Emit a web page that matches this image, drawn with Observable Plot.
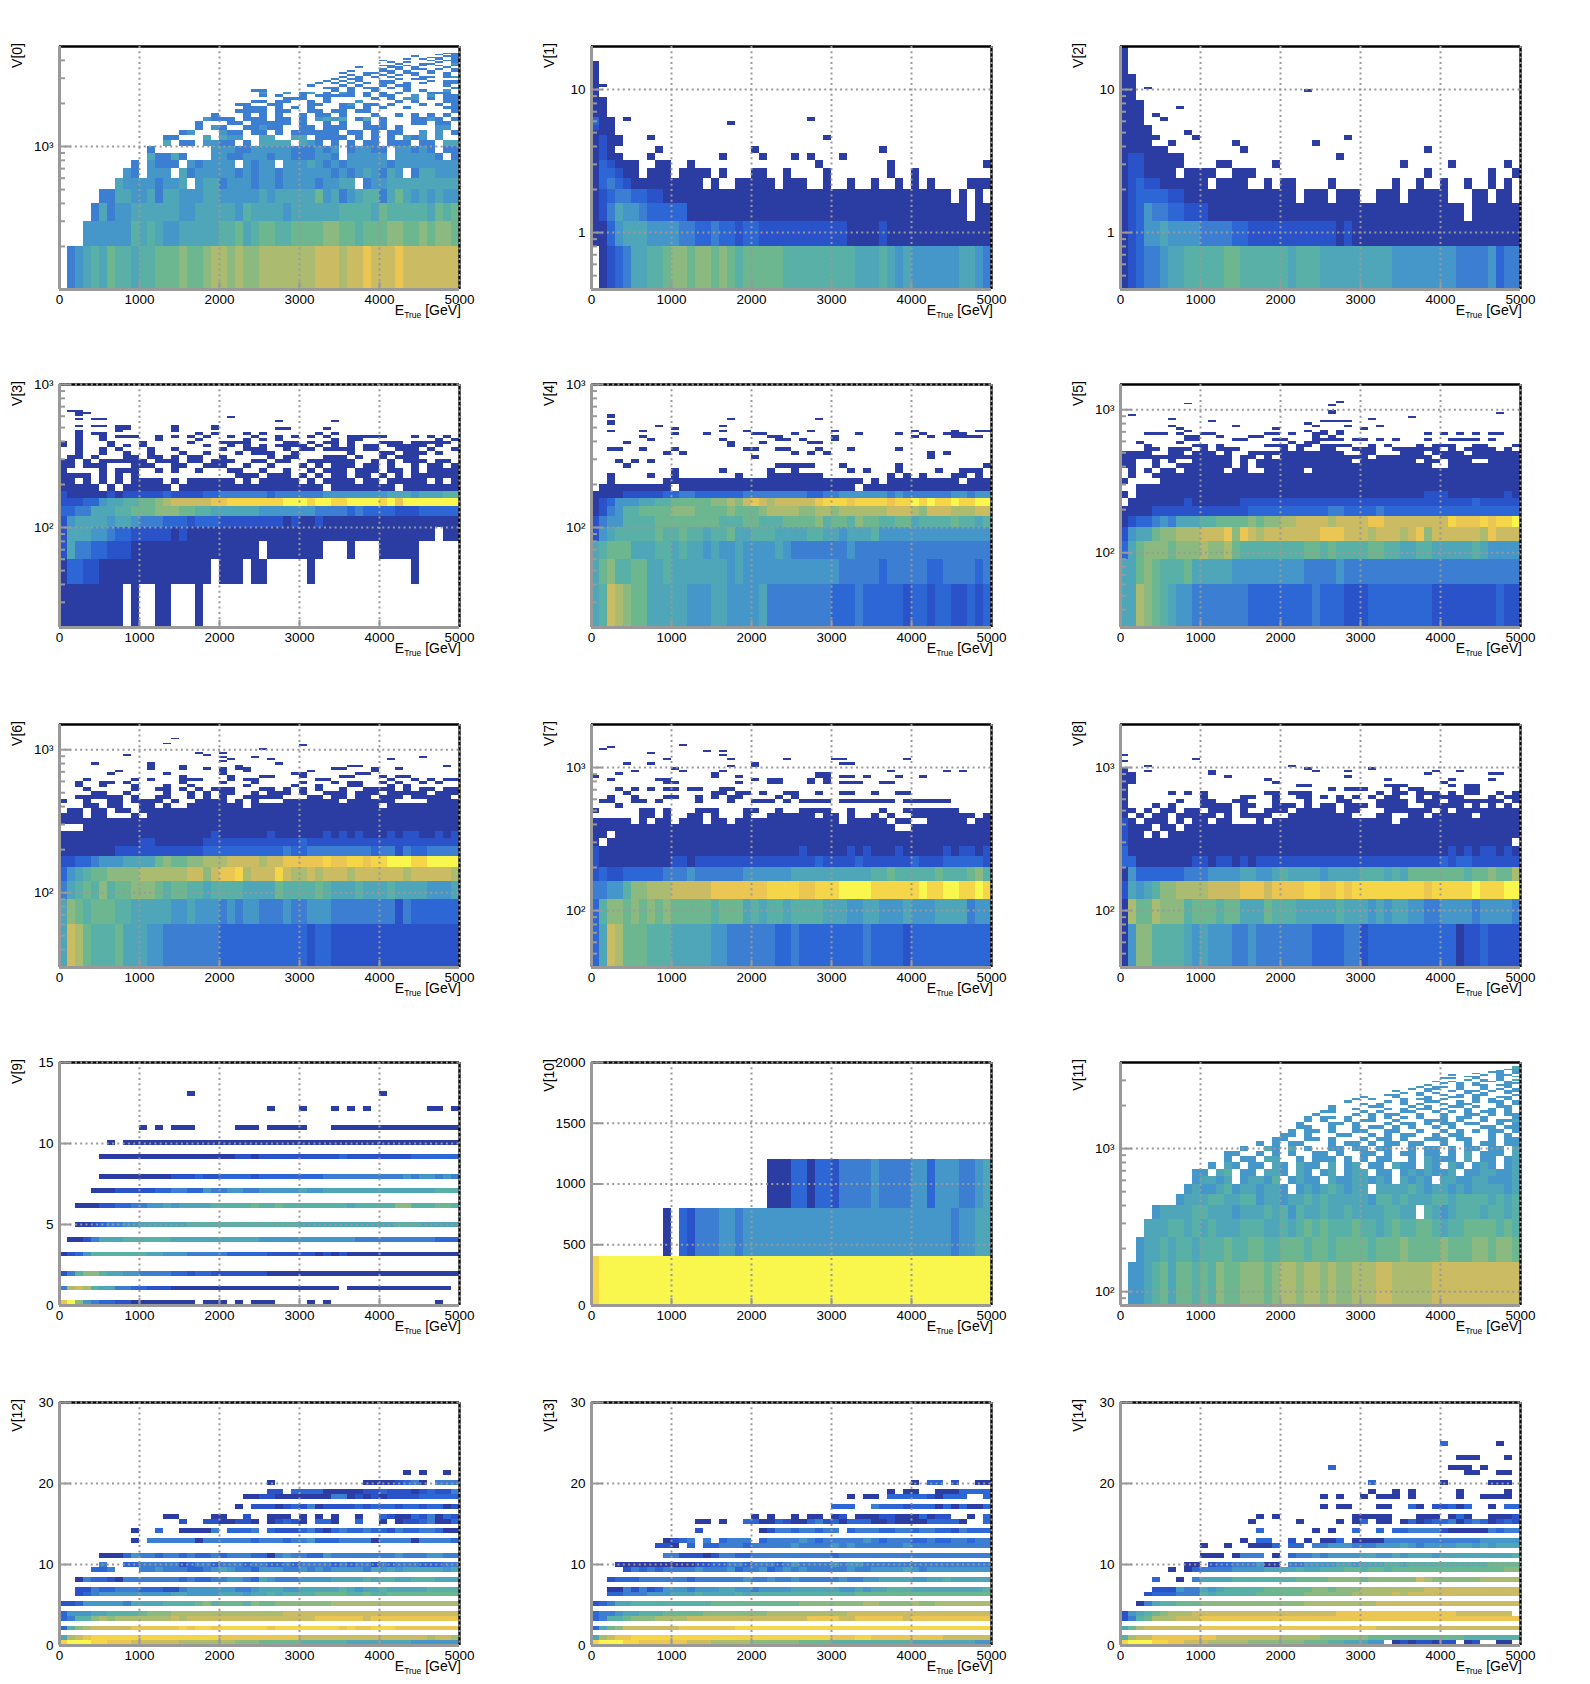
<!DOCTYPE html>
<html><head><meta charset="utf-8">
<script src="https://cdn.jsdelivr.net/npm/d3@7"></script>
<script src="https://cdn.jsdelivr.net/npm/@observablehq/plot@0.6"></script>
<style>
html,body{margin:0;background:#fff}
#page{position:relative;width:1590px;height:1684px;overflow:hidden}
#page svg{position:absolute;background:none;font-family:"Liberation Sans",Arial,sans-serif}
</style></head><body><div id="page"></div>
<script>
// Colour level of each cell: 0 (dark blue) ... d (yellow), "." = empty bin.
// A trailing * repeats the last level up to the last x bin.
const levels = "0123456789abcd".split("");
const palette = ["#2b3da3","#2a52c9","#2d66d5","#3b7ed2","#4497c8","#4ea6b8","#58b0a6","#6db790","#8bb97f","#abbb70","#cbbb62","#ecc653","#f6d649","#f9f64e"];
const xBinWidth = 100;
const xTicks = [0,1000,2000,3000,4000,5000];

// every array: index = y bin number, each string = 50 x bins (left to right)
const V0 = ["",
".345657665 6677787789 9898899999 99aaa9aaba aabaaaaaaa",
"...4444446 5654455555 6675677667 7778877677 7887787887",
"....353445 5555544555 5546555545 5555566665 7666665767",
".....33554 4535544455 4444454555 5574534566 3575454544",
".......544 443445.455 3444344344 4434455.34 4555555555",
"........43 .444.53444 4434344344 4444343454 354.355444",
".........3 .4333.4344 44.4344.44 4543434444 4344444444",
".......... .53353...4 4334443443 33443.4444 4.444443.3",
".......... .3.......4 4433444443 33434.3443 3.44343.33",
".......... ...5.33.44 33.3.5555. 543.3.3.33 .333.33.55",
".......... ...33...5. 544..55..5 5.3333.3.3 .3.434.4..",
".......... .....34... 433.33.3.3 33333.33.3 .33..4.4.3",
".......... .......3.4 3..33433.. 33.333..33 3.3....44.",
".......... .......3.. .33.33333. 3..3.3..3. 3...33.33.",
".......... ........43 33.333.33. 3.4545.35. 3...3343.3",
".......... .........3 ...3.3.3.. 3.33.3.. .3..3.3.3.3",
".......... .......... ..3333.33. .33.33.33. .........3",
".......... .......... ...333.3.3 .3...33.3. 3..3....33",
".......... .......... ..33..33.. .33..34.33 .3...3.3.3",
".......... .......... ....33.33. .3.3...4.. ..3.3...33",
".......... .......... ........33 3..3.....3 .3.44.3.33",
".......... .......... .....3.3.. 3.33333.3. 33..4.4.33",
".......... .......... .....4..4. 34.3.43.3. 3.3...333.",
".......... .......... ....33.... ....3.3..3 ...3.3..4.",
".......... .......... .......... ...33.3.33 .3.3.....3",
".......... .......... .......... .3...3.3.. 3.33....3.",
".......... .......... .......... ..3.3.4.3. 33.3.3..33",
".......... .......... .......... ...3.3.3.. 33....3.33",
".......... .......... .......... ....3.33.. ..3.33....",
".......... .......... .......... .....3.3.3 .3...33.34",
".......... .......... .......... ......3.3. 3.3.3...3.",
".......... .......... .......... .....3..33 .3.33.3.3.",
".......... .......... .......... ......3... 33.3..3..3",
".......... .......... .......... .......... 3.3.33.3.3",
".......... .......... .......... .......3.. .33.3...3.",
".......... .......... .......... .......... 33.3.3.3.3",
".......... .......... .......... .......... ..3..33..4",
".......... .......... .......... .......... .3.3...3.3",
".......... .......... .......... .......... 3.....3.33",
".......... .......... .......... .......... ...3.3.3.3",
".......... .......... .......... .......... ......33.3",
".......... .......... .......... .......... ....3...33",
".......... .......... .......... .......... .......3.3",
".......... .......... .......... .......... ........33"];

const V1 = ["",
".01235 5667 88788 78767 7777666666 6665556545 4444445543 3",
"00245554444 33223 2212 2111111111 1100001000 0000000000",
"0135443222 2200000000 0000000000 0000000000 0000000.00",
"0123322110 0000000000 0000000000 0000000000 00000.0.0. 0..00.0..",
"0232100000 0000.0.. 0000 0.000..0.. 0..0..0.0. 0....0000 ..0",
"0221 00.000 .0000.0... 00..0....0 .......0.. 0",
"0210 00..00 ..0....... ........0. .......0.. .........0",
"010 0...0... .....0.... 0...0.0... 0",
"010 .....0.. .........0 .......... .....0",
"0100",
"0100...0.. .......... .........0",
"000",
"100",
"200 .......... ....0",
"200 .0....... .......... .....0",
"00","00","00","00","00","00","0","0","0","0",
"00","0","0","0","0","0","0","0","0","0","0","0","0"];

const V2 = ["",
"0123345566 6667766666 6566655555 5555444444 4433334 2332",
"0124454444 3 33322111 1111 1111 0100000000 0000000000 0000000000 0*",
"0124332 211 1000000000 0000000000 0000000000 000.000000",
"0122221100 0000000000 00.000.000 ..000.0000 0...00.00 .0..",
"012110000 00.0000..0. 00....0... ....0..0.. 0..0..0.0.",
"0110000.00 00..000... .......... ........0. ......0..0 ..0.00",
"01100000.. ..00.....0 .......... .....0.... .0......0 ....0",
"01100000. .......... ........0. .........",
"000000.... .....0.... .......... ........0",
"0000..0... ....0..... ....0",
"00000....0 .......... ........0",
"0000....0","0000","000",
"000..0",
"000.0","000",
"000....0","000","000",
"00","00","00",
"00 ....... .......... ....0",
"00.0","00","00","00","00","00","00",
"0","0","0","0","0","0","0","0","0","0","0","0","0","0","0","0","0","0"];

const V3 = ["",
"00000000.0 ..00...0..",
"0221100000 000000000. 000.00.... .0........ ....0",
"1533221110 0000000000 00000.0000 000...0... 00000",
"1555443221 1111010000 0000000000 0000000000 0000000.00",
"1455554554 3332221222 1111111101 0010000000 0000000000",
"2233555667 7788877665 5555544444 4433332322 2211122222",
"1112245566 7789aaaaab bcccccccdd dcddccdddd cdbddddddd",
"1000001011 1112111122 3333332333 3334444444 4555455566",
"00000.0.00 0000.00000 0000000000 000.000000 00.0000000",
"00.0.0.0.0 000.0.0000 00.0.00000 .0.0000.00 .00000.0.0",
"0000.0.0.0 .......... ..000.000. 0.0.00.00. 0.0.000000",
"0....0.000 ..0.0..0.. .00..0..0. .0.000.000 .00.0.0000",
"00.000...0 00..00..00 0..0..0... 0.0.000.00 .0..0.00.0",
"00.0.00000 0.000.00.0 00..00.00. .000000..0 .0.000.00.",
".00.0...00 .00.0.00.. 0.....0.00 ...000.0.. 0.000.....",
"..0..0..0. .0...0..0. ..0.000..0 ......0... 00.000.0.",
"..0..0.0.. .0..0..... 0..000..0. 00.0000.00 ..000.0..0",
"0.0...0.0. 0.......0. .0.0.0.000 0.0.0.0.00 .00000.0..",
"0.0...0... 0.....0... 0000....00 .0.00.0... 000.00000.",
"..0..0.... ..0....0.. ...0.0.0.. ....0.00.. .......0.0",
"..0..0.000 ..0.0.0.0. .0..0..0.0 .0.0..0000 0...0.0.0.",
"..0.00.... .......0.0 ...0.0.... ..0.0.....",
"..0....0.. ....0..... ..........",
".......00. ....0....0 .......00. ...0.....",
"..0.00.00. ....0....0 ..........",
"..........",
".......... .......... .......0.. ....0.....",
"..0.00.... ..........",
".......... .......... .0........",
"..0.......",
"..00",
".00"];

const V4 = ["",
"56a9877555 5544455444 4533333333 2223222221 2212211212",
"5786677556 5555555454 4444444444 4333332333 3322333323",
"5677755566 5655454454 4445433333 3343333333 3333333333",
"1456666676 6766566755 6665555665 5455564444 4444444444",
"1344666677 7777776667 7666777786 7768776677 5666676656 6",
"0134667777 8887777877 7899998899 8999999aaa 9 8 a a a 9 9 9 a a a*",
"012 4 4 4 5 5 6 6 7 7 7 7 7 8 8 9 8 a b a 9 a a a a a b c c c b c c c c b c c d c d c c d c c d d*",
"0000111 112 2 3 3 2 2 2 2 2 2 3 3 3 3 3 3 3 3 2 2 3 3 4 4 4 4 4 4 3 4 3 3 3 3 3 3 4 4 3 4 4 4 4 4*",
".0000 00000.0000 00000 00000 00000 000.000000000000000000000*",
"..0......0 0000000000 0000000000 0000.0.0 000 00000.0000.00",
"..0....0.. 0.......0. ..0000000. .......0 .0.0...00 .0....0.",
"..........0 .....0.. ...0..0.... ..0.0...0. ...0..000...0",
"....0...... .......... ..00000...0 ......0 .......... 00",
"...0.0.0..",
".......... ..........0.. ..........  ...... ...0.......0",
".........0.0 .......... ...0.0.0.......... ..0.0",
"..00..0...0. ....... 00..00...0 ...0.....0",
".......... .......0...... .......",
"....0...... ......0...0.. ...00",
".......0.. ......0...... 00.0...0.",
"...... 0..... .......... 00 ......0...... ...0.0.. 0000.0",
"......... .0...0.. ...00...0.. .....0 ....0..0..00 0....0.",
"..0...0...... ...0..0... ....0 .. 0......... 0....0..00",
"..........0",
"........0... .. ..0... ..",
"..0",
"..0",
".......... .......0.... ...... 0 .........",
"..0.......",
"..0"];

const V5 = ["",
"55987654 4 3 3 3 3 3 3 3 2 2 2 2 2 2 2 2 3 2 2 2 1 1 1 2 2 2 2 2 2 2 2 1 1 1 1 1 1 1 1 2 1 1 1 1 1 0 1 1 1*",
"55 7 8 7 6 6 6 7 5 5 5 5 5 4 4 4 4 4 4 4 4 4 3 3 3 3 4 3 3 3 3 3 3 3 3 3 3 3 3 3 3 3 3 3 3 3 3 3 3 3*",
"2 5 7 8 8 8 7 8 8 8 9 8 8 9 7 6 6 6 6 6 6 6 6 7 7 6 7 6 6 6 6 7 7 6 6 5 5 6 6 5 5 5 5 5 6 5 4 4 4 4*",
"1 4 5 5 7 8 8 9 9 9 a a a b 8 b a 9 a a a a a a a b b b a a a 9 a a a 9 a b 8 a a a a a a 9 b a a a 9",
"0 1 2 2 3 4 3 5 5 5 6 6 7 7 7 7 8 7 8 8 9 9 a a a a 9 a a a a b b a a a a a a a a c b b b c b c c d c d c b d c",
"0000 1 1 1 1 1 1 1 1 1 1 1 1 2 2 2 2 2 2 2 2 2 2 3 3 2 2 2 2 3 2 2 2 2 2 2 2 2 2 2 2 2 2 2 2 2 2 2 3 2 3",
".000000010 0000011111 1111111111 1111111111 1111 2 1111 1 1 11",
"0.00000000 0000000000 0000000000 00000000 1 1 1 0000000 1 0 0",
"..00000000 0000000000 00000000 0 0 00000000 00000 00000 000",
"0....00000 0000000000 0000000000 0000000000 0000000000",
".0..000000 0000000000 0000000000 0000000000 0000000000",
".0.0.00.00 000.00..00 000.00000 000000000000 000000000000",
"00..0..000 0000.0.000 0000000000 000000000 ..0000000000000",
"00..0.0..00 000.0.00000 0000000.0 000000.00 .000..00000000",
"0000000000 0000.00.0. 00000000000 .0000000 .00000000000000",
"0000..00.0 00.0..0000 00000000..0 0...000.0 000.00000000.0",
"...00.000.0 .000.. ...0.0..00.. 000..0000 00.0.0000.0",
"...0.....00 .0.....000.00.0000..0 .0...0.0 00..00...0.00",
"..0....0.. ...........0.00 ....",
"...... ..00... .00...00...0000.00 .0.0...0.. 0000.0...00",
"..... ...00..0 ...00......0.0 ...",
"...000.0.. 00......00.0. .00.0...... ....0.0.0 .0.00",
"...... ..0... ...........0 .0 .0 ",
"...... .0....... ....0...... ....0..",
"...... 0... ....0......... 0...0...0",
".......... .......... ...0",
"...........0.......... ...0000",
"...... 0... .......... ...........0",
".......... .......... ........ ........ 0",
".0",
".......... .......... ......0 .......... .......... 0",
".......... .......... ......0",
".......... ..",
"",
".......... .......... ......0",
"........0",
".......... .......... ..... ..0"];

const V6 = ["",
"5 a 9 7 6 6 6 7 5 5 5 4 4 3 3 3 3 3 3 3 2 2 2 2 2 2 2 2 2 2 2 1 2 2 1 1 1 1 1 1 1 1 1 1 1 1 1 1 1 1",
"5 8 7 6 7 7 7 6 6 5 5 5 5 5 4 4 5 4 4 4 3 4 3 4 4 3 3 3 4 3 3 4 4 4 3 3 3 3 3 3 3 3 1 3 2 2 2 2 2 2",
"3 5 6 7 6 8 6 7 7 8 8 8 7 6 7 7 6 6 5 6 6 6 6 5 5 5 5 7 6 6 6 6 7 6 5 5 5 6 5 5 5 6 5 5 5 5 4 4 4 5",
"2 4 5 6 7 7 8 8 8 8 9 9 9 9 9 9 a a 8 a b b c 9 a a a c a 9 9 a 9 a a a 9 a a a a a a 9 a a a a a 9",
"1 1 2 2 3 4 4 4 5 5 5 5 7 8 7 7 8 8 9 9 9 a a a a 9 a a b b b b b c b b c c b c c d d d c c d d d d",
"0000000 1 1 1 1 1 1 1 1 1 1 1 2 2 2 2 2 2 2 2 2 2 3 2 2 3 3 3 3 3 3 3 3 2 3 3 1 3 2 2 3 3 3 3 3 3 3 2",
"0000000000 1 1 000000 1 1 1 1 1 1 1 1 1 1 1 1 2 1 1 1 1 1 1 1 1 1 1 1 1 1 1 1 1 1 1 1 1 1*",
"0000000000 0000000001 0000001000 0001010100 0101100101 00",
"...0000000*",
"0000000000*",
"000.00...0 .0*",
".00.00.00. 0*",
"...00.00.. 00.0..0000 000.000000 0000000000 .0*",
"0..0..00.0 000.0..000 0.0.0...00 00000.0000 00....0000",
"..000000.0 ..00..0.0. 0..00000.. .00.00.00. 000.00000.",
"....00..0. ...0..0.0. 00..0.000. 0..000.000 .00000.000",
"...0.....0 ..00.0.0.0 00...00.0. 0.0..0..00 00.0.00.00",
"..0..0...0 ...0..0... ...0.....0 ..0...00.. .0.0.....",
"..0..00.0. .....0.... 0...0..... 0...0.00.. 0.0..0.0..",
"...0.....0 .0...000.. .0.00..... ..00...... .0..0.0.00",
".......... .....0.... .0...00... 0....00... 0.00..",
"......0..... .0......0.. ......00.. ....00.. .....",
".......0.. .......... 0..0.......0 .......0",
".......... .0.. .0..0.0.00.. ........00... 0..0",
".......... .0...0.... ..0....... ......00.. ........0",
"....0...... 0......... ......0... ..........",
".......... .......... 0.......... ........",
"........ ....... ......0.. ..0.... ..........0",
".......... .......... 0...0 ..... ...... .........0",
"........0.. .......0 .......... ..........",
".......... .......0 ..0.......",
"",
".......... .......... .....0....",
"",
".......... .......... ..........0",
".......... ...0",
"","",
".......... ....0"];

const V7 = ["",
"25 a 9 7 7 7 6 6 6 5 5 5 5 5 4 4 3 3 3 3 3 3 2 2 3 2 2 2 2 2 2 2 2 3 2 2 2 2 1 2 2 2 2 2 2 2 2 2 2 1",
"2 6 8 8 7 8 7 8 7 8 7 7 7 7 7 6 7 7 7 5 6 5 6 6 5 6 6 6 6 5 5 5 4 4 5 5 4 4 4 5 4 4 4 5 5 5 5 3 4 4",
"3 3 4 4 6 8 8 9 9 9 a a a a a b b b b b b b c c c c b b c c c d d d d c c c c c c d c c d d c c d c",
"1 2 1 1 2 2 2 2 2 3 3 3 4 3 3 3 3 3 3 4 4 4 4 4 4 5 5 5 5 5 5 5 5 5 5 6 6 7 6 6 6 6 6 7 6 6 6 7 8 6",
"1 0 0 0 0 0 0 0 0 0 1 1 0 1 1 1 1 1 1 1 1 1 1 1 1 1 1 1 2 1 1 1 1 2 1 1 1 1 1 1 2 1 1 1 2 2 2 2 2 1",
"1 0000000 000000000000000000 1 0 0 0 0 0 1 0 1 0 0 0 1 0 0 0 0 0 1 0 1 1 0 1 0",
"0.00000000 0000000000 0000000000 0000000000 0000000000",
"00.0000000 0000000000 0000000000 0000000000 0000000000",
"0000000000 0000000000 0000000000 00000000..0 00000000 00",
"00000.0.00 .000.00.00 00000000 000.00000.0 0..00000.0000.00.0",
"......00.0.. 00.0...0.. 000000.00.0..0 .0..00000 000.0.00.",
"0.....00.0 ...000...00..0 ..0000..0...0.. 0000000",
"...0.....",
".00..00.0. ...0...0.. 000.0.0000 .0000000.0 00000",
"..0..0...0 0..0.0.00. ...0.0....",
"....0....  ......00.00.0..0 0..0..00..0..00",
"...0.0.0.00.00..00 ...",
"",
".........0 0.......0...00...0.0.000..00",
"..0.....00 ..........0.00...0.0...",
"0...... .... ....0.. 0.........00 .00.0...0..0",
"...0...... .....0... ..... ....00",
".....0.... .0....0... ........... ......0......0.0...0",
"..........0 ...... ..",
".......... .......0.. 0",
"....0..0.. ..........0 ..........00",
"",
".........0 ....... 0...... 0..... 00.......0",
"..........",
"............ ....0",
"...... .0...",
".......... ....0.0",
".0",
"..0",
"...........0"];

const V8 = ["",
"0 4 8 8 6 6 6 6 5 4 5 4 4 4 3 3 4 3 3 3 3 3 3 3 2 2 2 2 3 3 1 2 2 2 2 2 2 2 2 2 2 2 0 1 1 2 1 1 1 1",
"0 9 7 7 9 8 8 8 6 7 7 7 6 7 7 5 5 5 7 6 6 6 5 5 5 5 5 6 5 5 5 4 5 4 5 5 4 4 3 3 4 4 4 4 3 4 4 4 4 3",
"1 5 4 5 6 8 8 9 9 9 9 a a a a b b b a b b b b c c b b c b c c c c c c c c c b c c c c c d c c c d d",
"0 4 2 2 2 2 2 2 3 3 3 4 4 4 4 5 5 4 4 5 6 5 5 5 5 4 5 5 5 5 6 6 6 5 6 5 7 7 7 7 7 7 7 6 7 7 8 7 7 9",
"2 2 0 0 0 0 0 0 0 1 1 0 1 1 0 1 0 1 1 1 1 1 1 1 1 1 1 1 1 1 1 1 1 1 1 1 1 1 1 1 2 1 2 2 1 1 1 1 1 1",
"2 0 00000000 00000000000 00000000000000000000 1 0 1 0 1 1 0 1 0",
"1 00000000 0000000000 0000000000 0000000000 0000000000",
"1 00.0.0000 0000000000 0000000000 0000000000 0000000000",
"1 000.00.00 0000000000 0000000000 0000000000 0000000000",
"10.000.0.0 0.00...0.0 0000000000 0000.00000 0000000000",
"0.0.00.000 00.0.0000. .00000000. ..00..00. 00000.000 000.",
"00.0.00.00 .000.0..00 0.00000.00 ...000000.0 .000000000",
"0...0.0... 0000.00..0 00.0.00.00 0.0000..00 000.0.0.0.",
"0......0.. 00..00...0 ...0...00. ..0000.000 .0000000.0",
"0.........0 ....00..0 ..00.0.0.0 .0.00..0.0 000...0.000",
"0.....0.0.0 .......0 0.000...... ..0.00.000 .0.00..0.0.",
"0.......... .. .... ..... ....0.000...0 .00.....00",
"0.....................00 .........000. ....0.00",
"00 ....... .......... 0.......... ..........0",
"00 ................ 0..............0.......0 ....0",
"00 ..... ..... .0 ..............0.. ..........",
"00.........0 .......... ................0 .......00",
"0..0 ..... ..0 ...... ......0...0.. ..... .. .0.. 0",
"0.......... .... ..... ...0 .......0",
"...0.................0.......... ..",
"",
"0",
".........0","",
"0"];

const V9 = [
"bd84322 110 0000000 .000 .0.000.... 0.0.......... ...0",
"","",
"39a9 655332 21110 0000000 0000000000 000.0000000000000.. 0",
"","",
"1 3 6 8 8 6 5 5 4 4 3 3 3 3 2 2 1 2 2 1 1 1 1 1 1 1 0*",
"","","",
"0 1 2 4 6 6 6 6 6 6 6 5 5 4 4 4 3 3 3 3 3 2 2 2 2 2 1 1 1 1 1 1 0 1 0 1 0*",
"","",
".001 3 5 5 5 6 6 6 6 6 6 5 5 5 5 5 5 5 5 5 5 5 4 4 4 4 4 4 4 4 4 4 4 4 3 3 3 3 3 3 3 3 3 3 2 2 2 2 2 2*",
"","",
"..001 2 3 3 4 4 5 5 5 5 5 5 6 6 6 6 6 6 6 6 6 6 6 6 6 6 5 5 5 5 5 5 5 5 5 5 5 5 6 6 6 5 5 5 5 5 5 5 5 6",
"","","",
"..00011 2 2 3 3 4 4 5 4 5 5 5 5 6 6 6 6 6 7 6 6 7 6 6 6 6 6 6 6 6 5 6 6 6 6 6 8 8 6 6 6 7 7 6 7 6*",
"","",
"....0001 11 11 2 2 3 3 2 2 4 3 3 4 4 3 3 4 4 4 4 4 5 4 4 5 5 5 5 5 5 5 5 5 5 5 5 5 5 6 6 6 6 6 6 6*",
"","",
".....0000 00000 11 1 2 1 1 2 2 2 2 1 2 2 2 2 2 2 2 2 3 3 3 3 3 3 3 3 3 3 4 3 4 4 3 4 3 3*",
"","","",
".....00000 0000000000 00 1 1 0 1 1 1 1 1 1 1 1 1 1 2 1 1 1 1 1 1 1 1 2 2 2 2 2 2 2 2 2 2*",
"","",
"......0.00 0000000000 0000000000 0000000000 0000000000",
"","",
".......... 0.0.000.... .000 .00000.. .000 000000000000 000000000 00*",
"","","",
".......... .......... ......0... 0...0.0.0. ......00.0",
"","",
".......... ......0... .......... .......... 0"];

const V10 = [
"cddddddddd dddddddddd dddddddddd dddddddddd dddddddddd",
".........0 .213334434 4444444444 4444444444 4444434455",
".......... .......... ..00022022 1333343333 4424443345"];

const V11 = ["",
".4456 7 5 7 7 6 7 6 8 7 7 8 8 8 7 8 9 9 8 9 9 8 9 8 8 9 9 9 a a 9 9 9 9 9 a a a a a a a a a a a a a a a a",
"..4556 5 6 6 5 6 6 6 7 6 6 7 7 6 6 7 7 7 6 7 7 6 7 7 7 7 6 7 7 7 8 7 7 7 7 8 7 7 7 8 8 7 8 8 7 7 8 7 8 7",
"...555 6 6 5 6 5 6 5 5 5 6 6 6 5 5 6 5 6 7 6 7 6 6 6 7 6 6 5 6 7 6 6 7 7 6 5 6 6 7 7 7 7 6 7 6 6 7*",
"....4 5 5 5 5 6 6 5 5 5 4 5 5 5 6 5 6 4 6 5 5 6 5 5 6 5 5 5 5 6 6 5 5 .6 5 4 5 6 6 6 5 6 6 5 6 6 5 6 5",
".......455 5665566455 4556565555 5466565556 6566665656",
"........45 4456455455 4.45456545 5.55556545 5454555545",
".........4 5545.45546 .4544.5445 5454.5454. 5544554445",
".........4 4.56.44.55 4.54.45.45 5.44.45454 45.4455445",
".......... .4.54.44.5 4.544.5.45 .44.544.54 .54.454.45",
".......... ...4.44.55 ..4.444.4. 4.44..4.54 44.5.44.45",
".......... ...44..4.4 .4..44.4.. 44.4.44.44 .4.5.444.5",
".......... .....4..54 .5.4..44.4 4.44..4.44 .4.44.44.5",
".......... .......4.4 .44...4.44 .4.44.44.. 4..4.44.44",
".......... .........4 4..44.4... 4.44.4..44 4.44..4.44",
".......... .......... 44.4...44. .4.4.44..4 .44...4.4.",
".......... .......... .4.44.4..4 4..44..4.. 4.4.4.44.4",
".......... .......... ..44..4..4 .44.4.4..4 .4...44.44",
".......... .......... ..4...44.4 ...4.44.4. 44.44..4.4",
".......... .......... ...4.4..4. 44..4...44 4.4..4.445",
".......... .......... ...4.44.4. .4.4.4.4.. 4.44.4...4",
".......... .......... ....4....4 .4.44..4.. 4..44.4.44",
".......... .......... .....44... 4.4..44..4 .4.4.44.4.",
".......... .......... ......4..4 ...4.4.44. 4..4..4.4.",
".......... .......... ......4... .44...4.4. .44.4..44",
".......... .......... .......... 4.4..4.4.. 4.44...4.4",
".......... .......... ........4. ...4.4..44 ..4.4.44.4",
".......... .......... .........4 .4...4.44. 4...4.4.4.",
".......... .......... .......... 4...4...4. .44.4..44.",
".......... .......... .......... ...44..4.. 4.4.44...4",
".......... .......... .......... .....4.4.4 ...4.4..4.",
".......... .......... .......... ....4...4. .4.44.4.44",
".......... .......... .......... ......4.44 ..4..4.4.4",
".......... .......... .......... .......4.4 4.4..4..4.",
".......... .......... .......... ........4. ..4.44.44.",
".......... .......... .......... .......... 4.4.4...44",
".......... .......... .......... .........4 .4...44.4.",
".......... .......... .......... .......... ...4.4.4.5",
".......... .......... .......... .......... 44..4..4..",
".......... .......... .......... .......... ...44..4.5",
".......... .......... .......... .......... .4...4.44.",
".......... .......... .......... .......... ....4..4.4",
".......... .......... .......... .......... ......44.4",
".......... .......... .......... .......... .......4.5",
".......... .......... .......... .......... ........44",
".......... .......... .......... .......... .........5",
".......... .......... .......... .......... .........5"];

const V12 = [
"cdddccbbba aaaaa99999 998887 7 7 7 7 6 6 6 6 6 6 5 5 5 5 5 5 5 5 4 4 4 4 4 4 3*",
"5 9 a b c c c c c c c c c c c c c c c c b b b b b b b b b b a a a a a a a a a a a a a a a a 9 a a 9 9 9",
"","2 6 8 9 a a a a a b b b b b b c b c c b c c c c c c b c c c c c c c c b c b b c c c b b b b b b b b b",
"","2 3 6 6 8 9 8 9 9 9 9 9 9 9 a 9 a a a a a a a a a a a a a a a a b b b b b b a b b b b b b b b b b b",
"2 4 4 4 5 5 6 6 6 6 7 8 8 8 9 9 9 9 9 9 9 9 9 9 9 9 9 9 a a a a a a a a a a a a a a a a a a a a a a",
"","1 1 2 4 4 4 4 4 3 5 5 5 5 6 6 6 6 7 8 6 7 7 7 6 8 7 7 8 8 8 8 8 8 8 9 9 9 9 9 9 9 9 9 9 9 9 9 9 9*",
"","..1 2 3 4 4 4 4 4 4 4 4 4 5 5 4 4 4 4 5 5 5 4 5 5 6 5 6 6 6 6 7 7 7 7 6 6 7 6 6 7 7 7 7 7 7 7 7 7 7",
".. 1 1 3 2 2 3 3 3 2 2 2 1 1 3 4 4 4 4 4 4 3 3 4 5 5 5 4 4 5 5 5 5 5 6 5 4 5 5 6 5 5 5 5 5 6 6 6 6 6",
"","..0 3 2 2 1 0 3 3 3 3 3 3 3 2 3 2 2 3 3 4 4 3 2 5 4 3 3 3 4 4 4 4 5 5 5 5 6 5 6 6 5 5 6 6 6 5 5 5*",
"","....223... 3 3 4 3 3 3 2 2 3 4 5 4 3 3 2 4 4 4 3 3 4 3 4 3 4 4 4 4 3 5 4 5 4 5 5 5 5 5 4 5 4 4*",
".....3.. 2 2 3 3 3 3 3 1 2 3 3 2 3 3 3 2 3 3 2 2 3 2 3 3 3 3 2 3 2 3 3 1 3 2 3 3 3 2 2 2 3 3 3*",
"","..... 000 2 4 3 3 2 3 3 2 3 2 2 3 2 3 3 3 2 2 0 3 4 3 3 2 2 4 3 3 3 3 3 3 3 3 4 3 3 3 4 4 3 3 3 3*",
"","",".......2 2 0 1 3 3 3 2 2 3 3 0 3 4 3 2 3 3 3 2 0 3 3 3 3 3 4 4 3 3 3 0 1 3 3 3 3 2 3 0 4 4 3 3 3 3 3 3"];
// rows of V[12] at values 13 to 21
V12[21] = ".........0 .3 3 3 3 3 3 0 3 3 3 3 3 3 2 3 3 3 2 3 3 4 2 2 2 3 3 3 3 0 3 3 3 3 0 3 3 3 3 2 3 3 3 3*";
V12[23] = ".........0 ..2..00 0 0 3 .2 2 2 3 .2 1 1 1 2 3 1 0 2 3 2 2 3 2 2 1 3 2 2 3 3 2 0 0 2 3 2 2 1*";
V12[25] = ".......... .....1.. 11 0 0 1 1 0 .0 1 2 1 0 .2 2 0 .. 2 ..0 .0 1 1 2 3 0 0 2 3 1 0 0 .1 2 2 2 2 2 2 2*";
V12[26] = ".......... ...00.... 00..1..0 00.0.0. 0..0 ..2 10 0 2 1 3 0 2 1 3 2 1 2 2 2 2 2 1 1 1 2*";
V12[28] = ".......... .......... ..0 .1 1 1 0 1 2 1 3 0 1 1 1 1 2 1 2 2 2 1 2 2 1 2 2 0 1 1 0 3 2 1 0 2 0.";
V12[30] = ".......... .......... ...00 1 1 0 0 0 0 0 0 0 3 3 0 1 0 1 0 1 1 1 1 2 2 2 2 2 .. 2 3 2 3 0";
V12[31] = ".......... .......... ......1 1 . 2 2 2 2 0 0 0 0 0 1 1 2 1 1 1 0 1 2 1 1 3 3 2 3 1 2 2 2 2 2 2*";
V12[33] = ".......... .......... ......0. .......... 0 0 0 0 1 2 3 0 .3 3 3 3 3 3 1 2 3 3 .3 3 3 3";
V12[35] = ".......... .......... .......... .......... ...0.0..0.";

const V13 = [
"cdddccbbbb bbaaa99999 8888887777 6666666666 5555555544",
"5 9 a b b c c c c c c c c c c c c c c c c c c c c c c c c c b b b c c b b b b b b b b b a a a a a a a a",
"","2 5 7 8 a a a a a a a b b b b b b b c c c c c c c c c c c c c c c c c c c c c c c c c c c c c c c c*",
"","2 3 6 6 7 8 8 8 9 9 9 9 a a a a a a a a a a a a a a a b b b b a a b b b b b b a b b b b b b b b b b*",
"2 3 3 4 5 5 6 6 6 7 7 7 7 7 8 8 8 8 8 8 8 8 9 9 9 9 9 9 9 9 9 9 a a a a a a a a a a a a a a a a a a",
"","1 2 3 5 5 6 6 6 6 6 6 6 6 6 6 7 7 7 7 7 7 7 7 7 7 7 8 8 8 8 8 8 8 8 9 9 8 8 8 8 9 8 8 9 9 9 9 9 9*",
"","..2 2 3 3 3 4 4 4 5 5 5 6 5 5 5 5 6 5 6 6 6 6 6 6 6 6 6 6 6 6 6 7 7 7 7 7 7 7 7 7 7 7 7 7 7 7 7*",
".. 0 0 3 1 3 1 2 4 4 4 3 4 4 4 5 5 4 4 3 4 4 4 4 5 5 5 5 5 5 4 4 5 4 5 5 6 6 6 5 5 5 5 5 5 5 5 5 6",
"","..1 2 2 2 3 3 3 3 3 3 2 3 3 3 3 3 3 4 3 3 4 3 3 4 3 3 3 3 3 4 3 3 4 4 5 5 5 5 4 4 5 5 6 5 5 5 5 5*",
"","....1 3 2 3 2 3 3 3 3 4 3 3 3 4 2 3 3 4 2 3 4 3 4 3 3 3 3 3 4 3 3 4 4 4 4 5 4 3 4 4 4 4 4 4 4 4 4*",
"...0 0 0 0 0 0 0 0 0 0 1 1 2 2 3 3 2 3 3 3 2 3 4 3 3 3 3 4 3 4 4 3 3 3 3 3 3 3 3 3 3 3*"];
V13[18] = "....... ..3 3 1 1 1 0 1 3 3 2 2 3 3 3 3 3 3 3 3 3 3 2 3 3 3 3 3 3 3 3 3 3 3 3 3 3 3 3 3 3 3 3 3 3*";
V13[20] = "....... .1 1 0 . 2 . 2 2 3 3 3 2 3 3 3 3 3 4 3 3 3 3 4 3 4 3 3 3 3 3 3 4 3 3 3 3 3 3 3 3 3 3 3*";
V13[21] = "....... ..0 1 2 3 . 3 . 2 3 3 3 . 2 3 3 3 3 4 3 2 3 3 3 3 3 4 3 2 3 3 3 2 2 3 2 2 3 3 2 3 3 2 3 2 0";
V13[23] = ".......... ...1...... .0 1 3 3 2 3 3 2 3 3 . 2 3 3 3 2 2 3 3 2 3 3 2 2 1 3 2 2 2 3 3 3 3 2*";
V13[25] = ".......... ...00.0.. 2 2 0 0 2 1 0 0 2 3 1 2 0 2 2 2 0 0 1 0 0 0 0 2 2 2 2 0 .. 2 3 2 2 2 2 0*";
V13[26] = ".......... .......... 0.0..0 .00 .0 1 .0 0 0 1 1 0 0 0 2 0 1 1 ..0 . 2 2 2 2 2 2 2*";
V13[28] = ".......... .......... .......... 2 2 2 . . 3 2 2 2 1 2 2 2 0 2 0 2 0 0 2 3 . 2 2 1 3 . 0";
V13[30] = ".......... .......... .......... ..0 .0 0 .2 2 2 2 2 1 0 2 2 2 ..2 2 0 2 1 2 3 1*";
V13[31] = ".......... .......... .......... .......0 .00 .. 0 0 0 2 2 2 2 3 2 2 2 2 1 2 0 0 2 2*";
V13[33] = ".......... .......... .......... .......... 0 .2 2 .1 .. 0 0 2 2*";

const V14 = [
"cdddccbbaa a999998888 8887776655 544.010110 11.01..00.",
"6 9 a a b b b b b b b b a a a a a a a a 9 9 9 9 9 8 8 8 8 8 8 7 7 7 7 7 7 7 7 7 7 7 7 6 6 6 6 6 6 6",
"","5 7 9 a a a a a a a b b b b b b b b b b b b b b b b b b b b b b a a a a a a a a a a a a a a a a a*",
"","1 3 6 7 9 9 9 a a a b b b b b b b b b b b b b b b b b b b b b b b b b b b b b b b b b b b b b b*",
"1 4 5 6 7 8 9 9 9 a a a a a a a a a a a a a a a a a a b b b b b b b b b b b b b b b a a a a a a a",
"","..0 3 5 6 6 7 7 7 8 8 8 8 8 8 8 8 8 8 8 8 8 9 9 9 9 9 9 9 9 9 a a a a a a a a a a a a a a a a a a*",
"",
"...1 2 2 2 3 3 3 6 5 6 6 6 6 6 7 7 7 7 7 7 8 8 8 8 8 8 9 9 9 9 9 a 9 a a a a a a a a a a a a a a*",
"....1 1 1 4 3 3 5 4 5 6 6 6 6 6 7 7 7 7 7 7 8 8 7 8 8 8 9 9 9 9 9 9 9 9 a a a a a a a a a a a a a*"];
V14[13] = "....2 ..0 . 3 5 5 5 5 6 6 6 6 6 6 6 6 7 7 7 7 8 8 8 8 7 8 8 8 8 8 8 a 9 8 8 8 8 8 8 9 9 9 9 9 9 9*";
V14[15] = "...... 0 . 0 2 3 3 3 3 4 4 4 4 5 5 5 5 6 5 5 6 6 6 7 7 6 7 7 6 7 7 7 7 7 7 7 7 7 7 7 7 7 7 8 8 8*";
V14[16] = "........ 0 0 . 1 2 2 3 3 3 4 0 0 . 3 3 4 4 4 4 5 5 4 5 5 5 6 6 5 6 6 6 6 6 6 6 6 6 6 7 7 7 7 7 7*";
V14[18] = ".......... 000 . 0 3 3 3 . 0 . 2 3 3 4 3 4 4 4 4 5 5 4 4 5 4 5 5 5 4 5 5 5 5 5 5 5 5 5 6 6 6*";
V14[20] = "..........0. .0 . . 0 0 0 2 . 2 2 .3 3 4 4 4 3 3 3 4 4 4 5 4 3 4 4 4 4 5 5 4 5 4 5 5*";
V14[21] = ".......... .. ...0 . 2 2 . . 1 . 0 . 0 0 2 . 0 0 0 0 3 3 3 3 3 3 3 3 3 3 3 3 4 4 4 4 4 4 4*";
V14[23] = ".......... .... ...2 ...... 0 . 0 ..2 ..2 . 2 2 3 3 3 3 1 0 0 0 0 0 3 2 3 3 3 2 3 3 3 3 3 2 2*";
V14[25] = ".......... ...... 0.. ...0 ....0 .0 2 . 0 0 . 0 2 0 1 2 2 3 0 2 3 2 0 1 2 1 2 3 3 2 1 1*";
V14[26] = ".......... ...... .0.0 ...... ... 0 0 0 0 0 ...0 0 0 . 0 2 0 ..0 0 0 1 1 0 0 1 0 1 1 0*";
V14[28] = ".......... .......... ..... 0 .0 0 . . . 0 0 .. 2 0 . 1 1 2 0 2 ..0 .2 2 0 0";
V14[30] = ".......... .......... .....0 .0 ..0 .0 0 0 .0 ..... 0 . . 0 0 0 0 . 0";
V14[31] = ".......... .......... ......... ..0 ..0 .0 ..... 0 ..... 0 ..0 0 0 0 .";
V14[33] = ".......... .......... .......... .2 ........ 0 ..... 0 0 0 .";
V14[35] = ".......... .......... .......... .......... ...00 ..0 0 .";
V14[36] = ".......... .......... ......2 .......... ....00 0 .0";
V14[38] = ".......... .......... .......... .......... ..000 .. .0";
V14[41] = ".......... .......... .......... .......... 2 ...... 0";

const panels = [
 {name:"V[0]", rows:V0, lo:100, hi:5000, w:100, log:true, major:[1000], minor:[200,300,400,500,600,700,800,900,2000,3000,4000], top:46, left:59},
 {name:"V[1]", rows:V1, lo:0.4, hi:20, w:0.4, log:true, major:[1,10], minor:[.5,.6,.7,.8,.9,2,3,4,5,6,7,8,9], top:46, left:591},
 {name:"V[2]", rows:V2, lo:0.4, hi:20, w:0.4, log:true, major:[1,10], minor:[.5,.6,.7,.8,.9,2,3,4,5,6,7,8,9], top:46, left:1120},
 {name:"V[3]", rows:V3, lo:20, hi:1000, w:20, log:true, major:[100,1000], minor:[30,40,50,60,70,80,90,200,300,400,500,600,700,800,900], top:384, left:59},
 {name:"V[4]", rows:V4, lo:20, hi:1000, w:20, log:true, major:[100,1000], minor:[30,40,50,60,70,80,90,200,300,400,500,600,700,800,900], top:384, left:591},
 {name:"V[5]", rows:V5, lo:30, hi:1500, w:30, log:true, major:[100,1000], minor:[40,50,60,70,80,90,200,300,400,500,600,700,800,900], top:384, left:1120},
 {name:"V[6]", rows:V6, lo:30, hi:1500, w:30, log:true, major:[100,1000], minor:[40,50,60,70,80,90,200,300,400,500,600,700,800,900], top:724, left:59},
 {name:"V[7]", rows:V7, lo:40, hi:2000, w:40, log:true, major:[100,1000], minor:[50,60,70,80,90,200,300,400,500,600,700,800,900], top:724, left:591},
 {name:"V[8]", rows:V8, lo:40, hi:2000, w:40, log:true, major:[100,1000], minor:[50,60,70,80,90,200,300,400,500,600,700,800,900], top:724, left:1120},
 {name:"V[9]", rows:V9, lo:0, hi:15, w:0.3, log:false, major:[0,5,10,15], minor:[], top:1062, left:59},
 {name:"V[10]", rows:V10, lo:0, hi:2000, w:400, log:false, major:[0,500,1000,1500,2000], minor:[], top:1062, left:591},
 {name:"V[11]", rows:V11, lo:80, hi:4000, w:80, log:true, major:[100,1000], minor:[90,200,300,400,500,600,700,800,900,2000,3000], top:1062, left:1120},
 {name:"V[12]", rows:V12, lo:0, hi:30, w:0.6, log:false, major:[0,10,20,30], minor:[], top:1402, left:59},
 {name:"V[13]", rows:V13, lo:0, hi:30, w:0.6, log:false, major:[0,10,20,30], minor:[], top:1402, left:591},
 {name:"V[14]", rows:V14, lo:0, hi:30, w:0.6, log:false, major:[0,10,20,30], minor:[], top:1402, left:1120}
];

const gray = "#999", mL = 59, mT = 12, mB = 38, W = 400, H = 243;
const sup = {2:"²",3:"³"};
const page = document.getElementById("page");

for (const p of panels) {
  const cells = [];
  p.rows.forEach((raw, n) => {
    if (!raw) return;
    let s = raw.replace(/\s/g,"");
    if (s.endsWith("*")) { s = s.slice(0,-1); s = s.padEnd(50, s[s.length-1]); }
    [...s].slice(0,50).forEach((c, i) => {
      if (c !== ".") cells.push({x1:i*xBinWidth, x2:(i+1)*xBinWidth, y1:n*p.w, y2:Math.min((n+1)*p.w,p.hi), level:c});
    });
  });
  const fmt = p.log && p.major[0] >= 100 ? d => "10"+sup[Math.round(Math.log10(d))] : d => String(d);
  const svg = Plot.plot({
    width: mL+W+36, height: mT+H+mB,
    marginLeft: mL, marginRight: 36, marginTop: mT, marginBottom: mB,
    style: {fontFamily:'"Liberation Sans",Arial,sans-serif', fontSize:"13.5px", color:"#000", background:"none"},
    x: {domain:[0,5000], label:null},
    y: {domain:[p.lo,p.hi], type:p.log?"log":"linear", label:null},
    color: {type:"ordinal", domain:levels, range:palette},
    marks: [
      Plot.rect(cells, {x1:"x1", x2:"x2", y1:"y1", y2:"y2", fill:"level", shapeRendering:"crispEdges"}),
      Plot.ruleY([p.hi], {stroke:"#000", strokeWidth:2.4}),
      Plot.ruleX([5000], {stroke:"#000", strokeWidth:2.4}),
      Plot.ruleX(xTicks.slice(1), {stroke:gray, strokeWidth:2, strokeDasharray:"2,3.3"}),
      Plot.ruleY(p.major, {stroke:gray, strokeWidth:2, strokeDasharray:"2,3.3"}),
      Plot.axisY({ticks:p.major, tickSize:-12, fill:"none", stroke:gray, strokeWidth:2, label:null}),
      p.minor.length ? Plot.axisY({ticks:p.minor, tickSize:-6, fill:"none", stroke:gray, strokeWidth:2, label:null}) : null,
      Plot.axisX({ticks:xTicks.slice(1,5), tickSize:-7, fill:"none", stroke:gray, strokeWidth:2, label:null}),
      Plot.ruleX([0], {stroke:gray, strokeWidth:3}),
      Plot.ruleY([p.lo], {stroke:gray, strokeWidth:3}),
      Plot.axisY({ticks:p.major, tickSize:0, tickPadding:6, tickFormat:fmt, label:null, fill:"#000", fontSize:13.5}),
      Plot.axisX({ticks:xTicks, tickSize:0, tickPadding:5, tickFormat:d=>String(d), label:null, fill:"#000", fontSize:13.5})
    ]
  });
  svg.style.left = (p.left-mL)+"px";
  svg.style.top = (p.top-mT)+"px";
  const sel = d3.select(svg);
  sel.append("text").attr("transform",`translate(${mL-37},${mT-3}) rotate(-90)`)
     .attr("text-anchor","end").attr("font-size",14).attr("fill","#000").text(p.name);
  const t = sel.append("text").attr("x",mL+W+2).attr("y",mT+H+26).attr("text-anchor","end").attr("font-size",14).attr("fill","#000");
  t.append("tspan").text("E");
  t.append("tspan").attr("dy",3).attr("font-size",8.5).text("True");
  t.append("tspan").attr("dy",-3).text(" [GeV]");
  page.appendChild(svg);
}
</script></body></html>
